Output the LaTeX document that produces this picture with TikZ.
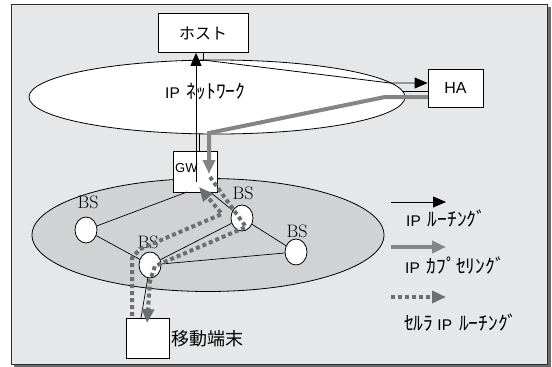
\documentclass[tikz,border=0pt]{standalone}
\usepackage{fontspec}
\usepackage{graphicx}
\newfontfamily\sans{Liberation Sans}
\newfontfamily\jp{Noto Sans CJK JP}
\usetikzlibrary{arrows.meta,shapes.geometric}
\definecolor{bg}{HTML}{E6E7E8}
\definecolor{cell}{HTML}{D1D2D4}
\definecolor{encap}{HTML}{858585}
\definecolor{cellroute}{HTML}{6D6E70}
\definecolor{framec}{HTML}{2E2E2E}
\definecolor{shadowc}{HTML}{6A6A6A}
\newcommand{\ipt}{{\sans\fontsize{15.5}{15.5}\selectfont IP}\hspace{7pt}}
\newcommand{\hk}[1]{{\jp\fontsize{19.5}{19.5}\selectfont #1}}
\tikzset{
  box/.style={draw, fill=white, inner sep=0pt, line width=0.8pt},
  bsnode/.style={draw, fill=white, ellipse, minimum width=22pt, minimum height=26pt, inner sep=0pt, line width=0.8pt},
  bslabel/.style={font=\fontsize{18}{18}\selectfont, inner sep=0pt},
  link/.style={line width=0.7pt},
  iproute/.style={line width=0.8pt, -{Triangle[length=13pt,width=11pt]}},
  encaps/.style={encap, line width=4pt, -{Triangle[length=14pt,width=12pt]}},
  cellr/.style={cellroute, line width=4pt, dash pattern=on 4pt off 3pt, -{Triangle[length=14pt,width=12pt]}},
  jptext/.style={inner sep=0pt},
}
\begin{document}
\begin{tikzpicture}[x=1pt,y=-1pt]
\useasboundingbox (0,0) rectangle (552,367);
% frame
\fill[shadowc] (14,7) rectangle (551,367);
\draw[framec, fill=bg, line width=1pt] (11,4) rectangle (547,364);

% networks
\node[draw, fill=white, ellipse, minimum width=376pt, minimum height=74pt, inner sep=0pt, line width=0.8pt] (ipnet) at (217,97) {};
\node[draw, fill=cell, ellipse, minimum width=352pt, minimum height=113pt, inner sep=0pt, line width=0.8pt] (cellnet) at (208,235) {};
\node[jptext, anchor=west] (ipnetlabel) at (165,91) {\ipt\hk{ﾈｯﾄﾜｰｸ}};

% boxes
\node[box, minimum width=90pt, minimum height=39pt] (host) at (203,33) {};
\node[jptext, font=\jp\fontsize{16}{16}\selectfont] (hostlabel) at (203,33) {ホスト};
\node[box, minimum width=55pt, minimum height=38pt] (ha) at (455.5,88) {};
\node[inner sep=0pt, font=\sans\fontsize{16}{16}\selectfont] (halabel) at (455.5,88) {HA};
\node[box, minimum width=44pt, minimum height=41pt] (gw) at (195,171.5) {};
\node[inner sep=0pt, anchor=west, font=\sans\fontsize{13}{13}\selectfont] (gwlabel) at (175,168) {GW};
\node[box, minimum width=43pt, minimum height=40pt] (mt) at (147.5,338) {};
\node[jptext, anchor=west, font=\jp\fontsize{18}{18}\selectfont] (mtlabel) at (171,339) {移動端末};

% base stations
\node[bsnode] (bs1) at (86,230) {};
\node[bsnode] (bs2) at (242,218) {};
\node[bsnode] (bs3) at (296,252) {};
\node[bsnode] (bs4) at (150,265) {};
\node[bslabel] (bs1l) at (88,202) {BS};
\node[bslabel] (bs2l) at (243,193) {BS};
\node[bslabel] (bs3l) at (297,231) {BS};
\node[bslabel] (bs4l) at (148,242) {BS};

% links
\coordinate (gwL) at (187,192);
\coordinate (gwR) at (210,192);
\coordinate (mtTop) at (141,318);
\draw[link] (bs1) -- (gwL);
\draw[link] (gwR) -- (bs2);
\draw[link] (bs1) -- (bs4);
\draw[link] (bs2) -- (bs3);
\draw[link] (bs4) -- (bs2);
\draw[link] (bs4) -- (bs3);
\draw[link] (bs4) -- (mtTop);

% IP routing: GW -> host, host -> HA
\coordinate (gwIn) at (196,182);
\draw[iproute] (gwIn) -- (gwIn |- host.south);
\coordinate (h0) at (203,52);
\coordinate (h1) at (203,60);
\coordinate (h2) at (390,83);
\draw[line width=0.8pt] (h0) -- (h1) -- (196,60);
\draw[iproute] (h1) -- (h2) -- (h2 -| ha.west);
\coordinate (h3) at (403,91);
\draw[line width=0.8pt] (h3) -- (h3 -| ha.west);
\coordinate (d0) at (199,134);
\draw[line width=0.7pt] (d0) -- (d0 |- gw.north);

% encapsulation: HA -> GW
\coordinate (e0) at (428,97);
\coordinate (e1) at (385,97);
\coordinate (e2) at (209,133);
\coordinate (e3) at (209,174);
\draw[encaps] (e0) -- (e1) -- (e2) -- (e3);

% cellular routing
\coordinate (a0) at (210,177);
\coordinate (a1) at (246,227);
\coordinate (a2) at (155,266);
\coordinate (a3) at (150,281);
\coordinate (a4) at (147,323);
\draw[cellr] (a0) -- (a1) -- (a2) -- (a3) -- (a4);
\coordinate (b0) at (132,316);
\coordinate (b1) at (132,258);
\coordinate (b2) at (140,249);
\coordinate (b3) at (222,214);
\coordinate (b4) at (199,187);
\draw[cellr] (b0) -- (b1) -- (b2) -- (b3) -- (b4);

% legend
\coordinate (l1a) at (391,202); \coordinate (l1b) at (446,202);
\coordinate (l2a) at (391,247); \coordinate (l2b) at (446,247);
\coordinate (l3a) at (391,297); \coordinate (l3b) at (446,297);
\draw[iproute] (l1a) -- (l1b);
\draw[encaps] (l2a) -- (l2b);
\draw[cellr] (l3a) -- (l3b);
\node[jptext, anchor=west] (leg1) at (406,219) {\ipt\hk{ﾙｰﾁﾝｸﾞ}};
\node[jptext, anchor=west] (leg2) at (405,266) {\ipt\hk{ｶﾌﾟｾﾘﾝｸﾞ}};
\node[jptext, anchor=west] (leg3) at (404,323) {\hk{ｾﾙﾗ}\hspace{4pt}\ipt\hk{ﾙｰﾁﾝｸﾞ}};
\end{tikzpicture}
\end{document}
